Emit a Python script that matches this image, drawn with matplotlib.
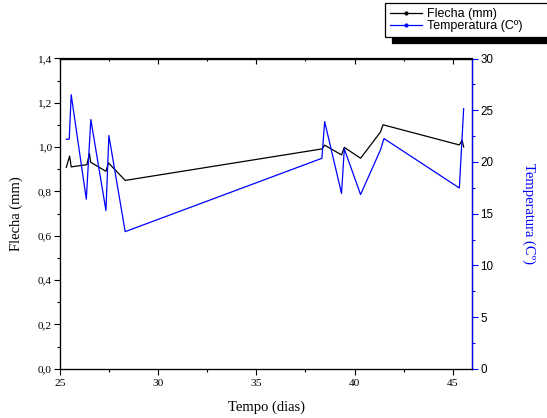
import matplotlib
matplotlib.use("Agg")
import matplotlib.pyplot as plt
from matplotlib.lines import Line2D
from matplotlib.ticker import MultipleLocator, FuncFormatter

# Data
dias_flecha = [25.32, 25.49, 25.57, 26.37, 26.50, 26.56, 27.34, 27.47, 28.32,
               38.34, 38.48, 39.34, 39.48, 40.31, 41.33, 41.45, 45.34, 45.48, 45.56]
flecha_mm = [0.909, 0.960, 0.911, 0.921, 0.971, 0.932, 0.891, 0.929, 0.850,
             0.992, 1.009, 0.965, 0.999, 0.950, 1.069, 1.101, 1.010, 1.031, 1.001]

dias_temp = [25.32, 25.47, 25.57, 26.34, 26.57, 27.34, 27.49, 28.32,
             38.34, 38.48, 39.34, 39.48, 40.31, 41.33, 41.50, 45.34, 45.56]
temperatura_c = [22.2, 22.2, 26.5, 16.4, 24.1, 15.3, 22.55, 13.26,
                 20.35, 23.9, 16.95, 21.26, 16.85, 21.2, 22.26, 17.48, 25.15]

W, H = 547, 418
fig = plt.figure(figsize=(W / 100, H / 100), dpi=100)
ax = fig.add_axes([60 / W, 1 - 368.8 / H, (472.3 - 60) / W, (368.8 - 58.5) / H])
ax2 = ax.twinx()

serif = "Liberation Serif"
sans = "Liberation Sans"
blue = "#0000ff"

ax.plot(dias_flecha, flecha_mm, color="black", lw=0.9)
ax2.plot(dias_temp, temperatura_c, color=blue, lw=0.9)

ax.set_xlim(25, 46)
ax.set_ylim(0, 1.4)
ax2.set_ylim(0, 30)

ax.xaxis.set_major_locator(MultipleLocator(5))
ax.xaxis.set_minor_locator(MultipleLocator(2.5))
ax.yaxis.set_major_locator(MultipleLocator(0.2))
ax.yaxis.set_minor_locator(MultipleLocator(0.1))
ax2.yaxis.set_major_locator(MultipleLocator(5))
ax2.yaxis.set_minor_locator(MultipleLocator(2.5))

ax.yaxis.set_major_formatter(FuncFormatter(lambda v, p: f"{v:.1f}".replace(".", ",")))
ax.xaxis.set_major_formatter(FuncFormatter(lambda v, p: f"{v:.0f}"))

for lab in ax.get_xticklabels() + ax.get_yticklabels():
    lab.set_fontfamily(serif)
    lab.set_fontsize(8.2)
for lab in ax2.get_yticklabels():
    lab.set_fontfamily(sans)
    lab.set_fontsize(8.4)

ax.tick_params(axis="x", which="major", direction="out", length=4, width=0.8, pad=3)
ax.tick_params(axis="x", which="minor", direction="out", length=2.2, width=0.8)
ax.tick_params(axis="y", which="major", direction="out", length=4, width=0.8, pad=2)
ax.tick_params(axis="y", which="minor", direction="out", length=2.2, width=0.8)
ax2.tick_params(axis="y", which="major", direction="out", length=4, width=0.8,
                color=blue, labelcolor="black", pad=2)
ax2.tick_params(axis="y", which="minor", direction="out", length=2.2, width=0.8, color=blue)

# Top ticks pointing inward via secondary axis
axt = ax.secondary_xaxis("top")
axt.xaxis.set_major_locator(MultipleLocator(5))
axt.xaxis.set_minor_locator(MultipleLocator(2.5))
axt.tick_params(axis="x", which="major", direction="in", length=4, width=0.8, labeltop=False)
axt.tick_params(axis="x", which="minor", direction="in", length=2.2, width=0.8)
axt.spines["top"].set_linewidth(0.9)

for s in ax.spines.values():
    s.set_linewidth(0.9)
ax2.spines["right"].set_color(blue)
ax2.spines["right"].set_linewidth(0.9)

ax.set_xlabel("Tempo (dias)", fontfamily=serif, fontsize=10.5, labelpad=9)
ax.set_ylabel("Flecha (mm)", fontfamily=serif, fontsize=10.5, labelpad=10)
ax2.set_ylabel("Temperatura (Cº)", fontfamily=serif, fontsize=10.5, color=blue,
               rotation=270, labelpad=30)

handles = [Line2D([], [], color="black", lw=0.9, marker="o", markersize=2),
           Line2D([], [], color=blue, lw=0.9, marker="o", markersize=2)]
leg = fig.legend(handles, ["Flecha (mm)", "Temperatura (Cº)"],
                 loc="upper left", bbox_to_anchor=(384.7 / W, 1 - 3 / H, 0.35, 0),
                 bbox_transform=fig.transFigure, mode="expand", borderaxespad=0,
                 prop={"family": sans, "size": 9}, frameon=True, fancybox=False,
                 edgecolor="black", framealpha=1, handlelength=2.6, handletextpad=0.35,
                 labelspacing=0.0, borderpad=0.4,
                 shadow={"color": "black", "alpha": 1, "ox": 5, "oy": -4.5})
leg.get_frame().set_linewidth(0.9)

fig.savefig("out.png", dpi=100)
